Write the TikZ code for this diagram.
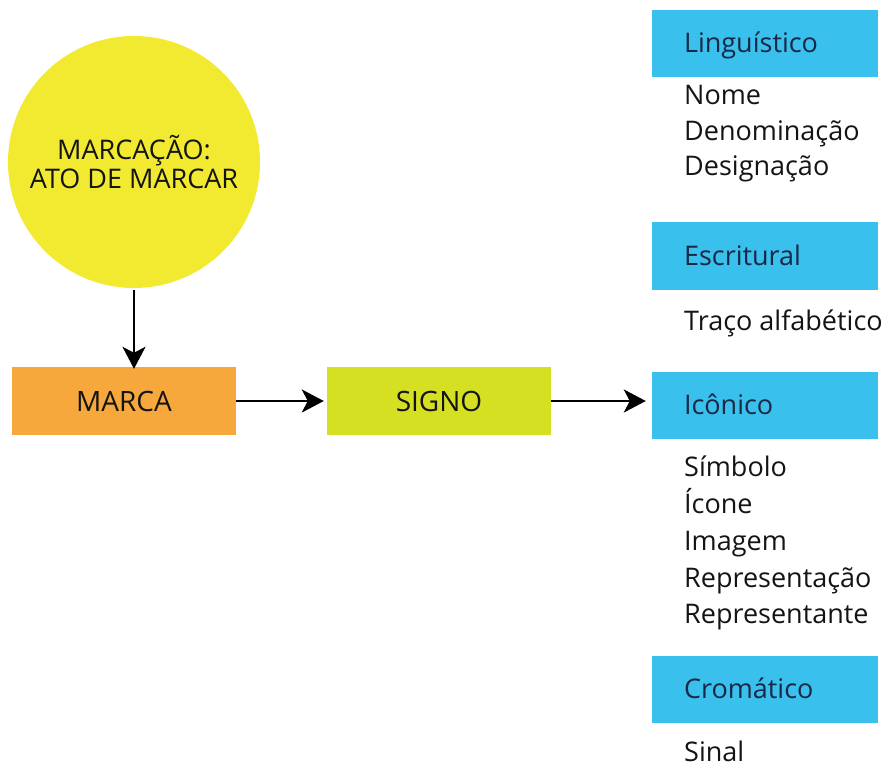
\documentclass[tikz,border=0pt]{standalone}
\usepackage{fontspec}
\setmainfont{Open Sans}
\usetikzlibrary{arrows.meta}
\definecolor{circY}{RGB}{242,234,48}
\definecolor{boxO}{RGB}{247,168,60}
\definecolor{boxL}{RGB}{213,224,35}
\definecolor{boxB}{RGB}{58,192,236}
\definecolor{hdr}{RGB}{25,40,70}
\definecolor{txt}{RGB}{20,20,20}
\begin{document}
\begin{tikzpicture}[x=1pt,y=-1pt,
  cat/.style={fill=boxB, minimum height=67pt, inner xsep=32pt, inner ysep=0pt,
    text width=162pt, align=left, text height=19pt, text depth=0pt, text=hdr,
    font=\fontsize{27}{30}\selectfont},
  item/.style={anchor=base west, inner sep=0pt, text=txt, font=\fontsize{27}{30}\selectfont},
  flow/.style={minimum width=224pt, minimum height=68pt, inner sep=0pt,
    text height=20pt, text depth=0pt, text=txt, font=\fontsize{28}{30}\selectfont},
  arr/.style={-{Stealth[length=22pt,width=23pt,inset=6pt]}, line width=2.6pt, black}]
\useasboundingbox (0,0) rectangle (885,767);
% circle
\node[circle, fill=circY, minimum size=252pt, inner sep=0pt, align=center, text=txt,
  font=\fontsize{27}{29}\selectfont] (circ) at (134,162) {MARCAÇÃO:\\ATO DE MARCAR};
% flow boxes
\node[flow, fill=boxO] (marca) at (124,401) {MARCA};
\node[flow, fill=boxL] (signo) at (439,401) {SIGNO};
% category boxes
\node[cat] (ling) at (765,43.5) {Linguístico};
\node[cat] (escr) at (765,256) {Escritural};
\node[cat] (icon) at (765,405) {Icônico};
\node[cat] (crom) at (765,689) {Cromático};
% items
\node[item] (nome) at (684,105) {Nome};
\node[item] (denom) at (684,141) {Denominação};
\node[item] (desig) at (684,176) {Designação};
\node[item] (traco) at (684,330) {Traço alfabético};
\node[item] (simb) at (684,476) {Símbolo};
\node[item] (icone) at (684,513) {Ícone};
\node[item] (imag) at (684,550) {Imagem};
\node[item] (repr) at (684,587) {Representação};
\node[item] (reprt) at (684,623) {Representante};
\node[item] (sinal) at (684,761) {Sinal};
% arrows
\draw[arr] ([yshift=-2pt]circ.south) -- ([yshift=-2pt]circ.south |- marca.north);
\draw[arr] (marca.east) -- ([xshift=-3pt]signo.west);
\draw[arr, shorten >=6pt] (signo.east) -- (signo.east -| icon.west);
\end{tikzpicture}
\end{document}
